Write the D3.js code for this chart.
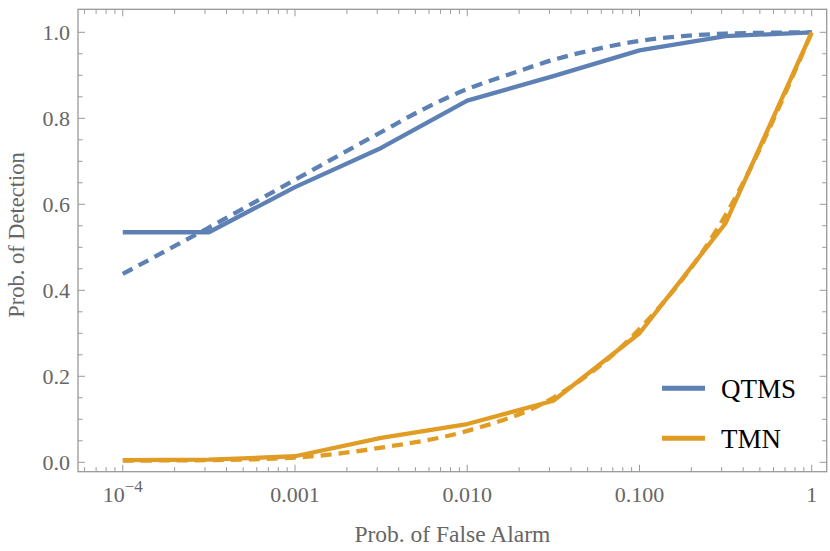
<!DOCTYPE html>
<meta charset="utf-8">
<style>
    body { margin: 0; background: #fff; }
    .tick-label { font: 22px "Liberation Serif", serif; fill: #666; }
    .axis-title { font: 23.5px "Liberation Serif", serif; fill: #666; }
    .legend text { font: 27px "Liberation Serif", serif; fill: #000; }
    .frame { fill: none; stroke: #999; stroke-width: 1.3px; }
    .tick { stroke: #999; stroke-width: 1px; }
    .series { fill: none; stroke-width: 4.3px; stroke-linejoin: round; }
</style>
<body>
<script src="https://d3js.org/d3.v7.min.js"></script>
<script>

// false alarm probability, as log10 values (half decades)
const pfaLog = [-4, -3.5, -3, -2.5, -2, -1.5, -1, -0.5, 0];
// finer grid for the smooth theory curve of QTMS
const pfaLogFine = [-4, -3.5, -3, -2.5, -2.25, -2, -1.75, -1.5, -1.25, -1, -0.75, -0.5, -0.25, 0];

const qtmsSim    = [0.535, 0.535, 0.640, 0.731, 0.841, 0.898, 0.958, 0.991, 1.0];
const qtmsTheory = [0.438, 0.546, 0.657, 0.768, 0.822, 0.868, 0.903, 0.936, 0.961, 0.980, 0.991, 0.997, 0.999, 1.0];
const tmnSim     = [0.005, 0.006, 0.014, 0.057, 0.089, 0.143, 0.300, 0.556, 1.0];
const tmnTheory  = [0.004, 0.005, 0.011, 0.034, 0.073, 0.150, 0.310, 0.575, 1.0];

const seriesNames = ["QTMS", "TMN"];
const colors = ["#5E81B5", "#E19C24"];

const xMajor = [1e-4, 1e-3, 1e-2, 1e-1, 1];
const xMajorLabels = ["10^-4", "0.001", "0.010", "0.100", "1"];
const yMajor = [0, 0.2, 0.4, 0.6, 0.8, 1.0];

const width = 830, height = 551;
const margin = { top: 9.3, right: 3.3, bottom: 79.3, left: 78 };

const svg = d3.select("body").append("svg")
    .attr("width", width)
    .attr("height", height);

const x = d3.scaleLog()
    .domain([Math.pow(10, -4.26), Math.pow(10, 0.087)])
    .range([margin.left, width - margin.right]);

const y = d3.scaleLinear()
    .domain([-0.0219, 1.0535])
    .range([height - margin.bottom, margin.top]);

const x0 = margin.left, x1 = width - margin.right;
const y0 = height - margin.bottom, y1 = margin.top;

// minor ticks
const xMinor = [];
for (let e = -5; e <= 0; e++) {
    for (let k = 2; k <= 9; k++) {
        const v = k * Math.pow(10, e);
        if (v > x.domain()[0] && v < x.domain()[1]) xMinor.push(v);
    }
}
const yMinor = d3.range(0.1, 1.0, 0.2).concat([0.05, 0.15, 0.25, 0.35, 0.45, 0.55, 0.65, 0.75, 0.85, 0.95]);

const ticks = svg.append("g");
const addXTicks = (vals, len) => vals.forEach(v => {
    ticks.append("line").attr("class", "tick")
        .attr("x1", x(v)).attr("x2", x(v)).attr("y1", y0).attr("y2", y0 - len);
    ticks.append("line").attr("class", "tick")
        .attr("x1", x(v)).attr("x2", x(v)).attr("y1", y1).attr("y2", y1 + len);
});
const addYTicks = (vals, len) => vals.forEach(v => {
    ticks.append("line").attr("class", "tick")
        .attr("x1", x0).attr("x2", x0 + len).attr("y1", y(v)).attr("y2", y(v));
    ticks.append("line").attr("class", "tick")
        .attr("x1", x1).attr("x2", x1 - len).attr("y1", y(v)).attr("y2", y(v));
});
addXTicks(xMajor, 7);
addXTicks(xMinor, 4.5);
addYTicks(yMajor, 7);
addYTicks(yMinor, 4.5);

svg.append("rect").attr("class", "frame")
    .attr("x", x0).attr("y", y1)
    .attr("width", x1 - x0).attr("height", y0 - y1);

// x tick labels
xMajor.forEach((v, i) => {
    const t = svg.append("text").attr("class", "tick-label")
        .attr("x", x(v)).attr("y", 502)
        .attr("text-anchor", "middle");
    const lab = xMajorLabels[i];
    if (lab.includes("^")) {
        const [b, p] = lab.split("^");
        t.append("tspan").text(b);
        t.append("tspan").attr("dy", -10).style("font-size", "17px").text(p.replace("-", "\u2212"));
    } else {
        t.text(lab);
    }
});

// y tick labels
yMajor.forEach(v => {
    svg.append("text").attr("class", "tick-label")
        .attr("x", 70).attr("y", y(v)).attr("dy", "0.35em")
        .attr("text-anchor", "end")
        .text(d3.format(".1f")(v));
});

svg.append("text").attr("class", "axis-title")
    .attr("x", (x0 + x1) / 2).attr("y", 542)
    .attr("text-anchor", "middle")
    .text("Prob. of False Alarm");

svg.append("text").attr("class", "axis-title")
    .attr("transform", "translate(24,235) rotate(-90)")
    .attr("text-anchor", "middle")
    .style("font-size", "22.5px")
    .text("Prob. of Detection");

// curves
const toPts = (logs, vals) => logs.map((l, i) => [Math.pow(10, l), vals[i]]);
const line = d3.line().x(d => x(d[0])).y(d => y(d[1]));
const smooth = d3.line().x(d => x(d[0])).y(d => y(d[1])).curve(d3.curveMonotoneX);

const curves = [
    { pts: toPts(pfaLog, qtmsSim), color: colors[0], dash: null, gen: line },
    { pts: toPts(pfaLogFine, qtmsTheory), color: colors[0], dash: "11,7", gen: smooth },
    { pts: toPts(pfaLog, tmnSim), color: colors[1], dash: null, gen: line },
    { pts: toPts(pfaLog, tmnTheory), color: colors[1], dash: "11,7", gen: smooth }
];

svg.append("g").selectAll("path")
    .data(curves)
    .enter().append("path")
    .attr("class", "series")
    .attr("stroke", d => d.color)
    .attr("stroke-dasharray", d => d.dash)
    .attr("d", d => d.gen(d.pts));

// legend
const legend = svg.append("g").attr("class", "legend");
seriesNames.forEach((name, i) => {
    const ly = 388.3 + i * 50;
    legend.append("line")
        .attr("x1", 662).attr("x2", 705).attr("y1", ly).attr("y2", ly)
        .attr("stroke", colors[i]).attr("stroke-width", 5);
    legend.append("text")
        .attr("x", 721).attr("y", ly).attr("dy", "0.35em")
        .text(name);
});

</script>
</body>
</html>
